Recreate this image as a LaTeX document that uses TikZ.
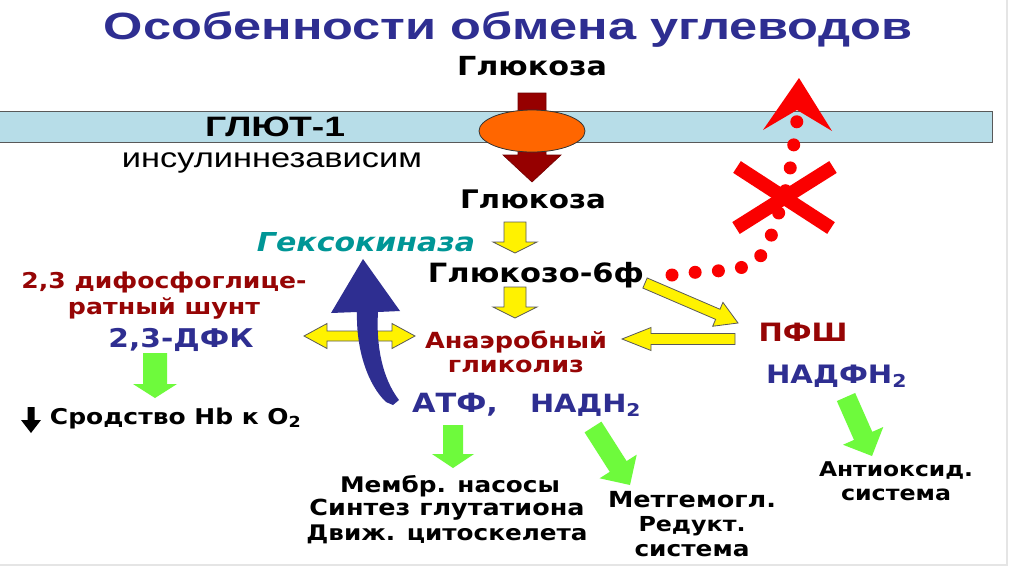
\documentclass[tikz,border=0pt]{standalone}
\usepackage{fontspec}
\setmainfont{DejaVu Sans}
\newfontfamily\arialf{Liberation Sans}
\usetikzlibrary{calc,shapes.geometric}
\definecolor{tblue}{RGB}{46,46,145}
\definecolor{dred}{RGB}{150,5,5}
\definecolor{tealc}{RGB}{0,150,150}
\definecolor{bandc}{RGB}{183,221,232}
\definecolor{orng}{RGB}{255,102,0}
\definecolor{grn}{RGB}{110,250,60}
\definecolor{ared}{RGB}{150,0,0}
\definecolor{rred}{RGB}{250,0,0}
\newcommand{\tw}[3][1.15]{\resizebox{#2pt}{!}{\scalebox{#1}[1]{#3}}}
% block arrow: style, start, end, half shaft, half head, head length
\newcommand{\barrow}[6]{%
  \coordinate (bh) at ($(#3)!#6!(#2)$);
  \path[#1] ($(#2)!#4!90:(#3)$) -- ($(bh)!#4!90:(#3)$) -- ($(bh)!#5!90:(#3)$) -- (#3)
    -- ($(bh)!#5!-90:(#3)$) -- ($(bh)!#4!-90:(#3)$) -- ($(#2)!#4!-90:(#3)$) -- cycle;}
\newcommand{\dbarrow}[6]{%
  \coordinate (bha) at ($(#2)!#6!(#3)$);
  \coordinate (bhb) at ($(#3)!#6!(#2)$);
  \path[#1] (#2) -- ($(bha)!#5!90:(#3)$) -- ($(bha)!#4!90:(#3)$) -- ($(bhb)!#4!90:(#3)$)
    -- ($(bhb)!#5!90:(#3)$) -- (#3) -- ($(bhb)!#5!-90:(#3)$) -- ($(bhb)!#4!-90:(#3)$)
    -- ($(bha)!#4!-90:(#3)$) -- ($(bha)!#5!-90:(#3)$) -- cycle;}
\tikzset{
  txt/.style={inner sep=0pt, anchor=base, font=\bfseries},
  yel/.style={fill=yellow, draw=black!65, line width=0.8pt, line join=miter},
  grarrow/.style={fill=grn},
  reddots/.style={draw=rred, line width=13pt, line cap=round, dash pattern=on 0pt off 23.3pt},
}
\begin{document}
\begin{tikzpicture}[x=1pt,y=-1pt]
\useasboundingbox (0,0) rectangle (1024,574);
\fill[white] (0,0) rectangle (1024,574);
\draw[black!10, line width=2pt] (1007,0) -- (1007,565) -- (0,565);

% membrane
\draw[fill=bandc, draw=black!65, line width=1pt] (-3,111) rectangle (992,142);

% title and texts
\node[txt, text=tblue, font=\arialf\bfseries] (title) at (508,39) {\tw[1.33]{808}{Особенности обмена углеводов}};
\node[txt] (gl1) at (532,75) {\tw{150}{Глюкоза}};
\node[txt, font=\arialf\bfseries] (glut) at (275,136) {\tw[1.33]{140}{ГЛЮТ-1}};
\node[txt, font=\arialf] (insul) at (272,167) {\tw[1.25]{300}{инсулиннезависим}};
\node[txt] (gl2) at (533,208) {\tw{146}{Глюкоза}};
\node[txt, text=tealc, font=\bfseries\itshape] (hexo) at (366,251) {\tw{218}{Гексокиназа}};
\node[txt] (g6) at (536,282) {\tw{216}{Глюкозо-6ф}};
\node[txt, text=dred] (dpg1) at (164,288) {\tw{285}{2,3 дифосфоглице-}};
\node[txt, text=dred] (dpg2) at (164,314) {\tw{192}{ратный шунт}};
\node[txt, text=tblue] (dfk) at (181,347) {\tw{145}{2,3-ДФК}};
\node[txt] (afin) at (176,424) {\tw{252}{Сродство Hb к O\textsubscript{2}}};
\node[txt, text=dred] (anaer) at (516,348) {\tw{182}{Анаэробный}};
\node[txt, text=dred] (glyc) at (516,372) {\tw{136}{гликолиз}};
\node[txt, text=dred] (pfsh) at (803,341) {\tw{89}{ПФШ}};
\node[txt, text=tblue] (nadfn) at (837,383) {\tw{142}{НАДФН\textsubscript{2}}};
\node[txt, text=tblue] (atf) at (455,412) {\tw{86}{АТФ,}};
\node[txt, text=tblue] (nadh) at (586,412) {\tw{112}{НАДН\textsubscript{2}}};
\node[txt] (mem1) at (450,492) {\tw{220}{Мембр. насосы}};
\node[txt] (mem2) at (447,515) {\tw{275}{Синтез глутатиона}};
\node[txt] (mem3) at (447,540) {\tw{281}{Движ. цитоскелета}};
\node[txt] (met1) at (692,507) {\tw{168}{Метгемогл.}};
\node[txt] (met2) at (692,531) {\tw{107}{Редукт.}};
\node[txt] (met3) at (692,556) {\tw{115}{система}};
\node[txt] (anti1) at (896,476) {\tw{154}{Антиоксид.}};
\node[txt] (anti2) at (896,500) {\tw{110}{система}};

% transporter arrow and ellipse
\coordinate (dr1) at (532,93);
\coordinate (dr2) at (532,182);
\barrow{fill=ared, draw=ared!75!black, line width=0.6pt}{dr1}{dr2}{14pt}{29pt}{27pt}
\node[ellipse, draw=black!80, fill=orng, line width=0.8pt, minimum width=106pt, minimum height=42pt, inner sep=0pt] (carrier) at (532,131) {};

% yellow arrows
\coordinate (y1s) at (515,222); \coordinate (y1e) at (515,253);
\barrow{yel}{y1s}{y1e}{11pt}{22pt}{11pt}
\coordinate (y2s) at (515,287); \coordinate (y2e) at (515,318);
\barrow{yel}{y2s}{y2e}{11pt}{22pt}{11pt}
\coordinate (yds) at (645,283); \coordinate (yde) at (738,323);
\barrow{yel}{yds}{yde}{5.5pt}{13pt}{22pt}
\coordinate (yls) at (735,339); \coordinate (yle) at (622,339);
\barrow{yel}{yls}{yle}{5.5pt}{11.5pt}{29pt}
\coordinate (ybs) at (304,336); \coordinate (ybe) at (415,336);
\dbarrow{yel}{ybs}{ybe}{5pt}{12.5pt}{23pt}

% green arrows
\coordinate (ga1) at (155,353); \coordinate (ga2) at (155,398);
\barrow{grarrow}{ga1}{ga2}{12pt}{22pt}{14pt}
\coordinate (gb1) at (453,425); \coordinate (gb2) at (453,468);
\barrow{grarrow}{gb1}{gb2}{10pt}{21pt}{14pt}
\coordinate (gc1) at (593,427); \coordinate (gc2) at (630,485);
\barrow{grarrow}{gc1}{gc2}{10pt}{22pt}{22pt}
\coordinate (gd1) at (846,397); \coordinate (gd2) at (872,456);
\barrow{grarrow}{gd1}{gd2}{10pt}{22pt}{22pt}

% black down arrow
\coordinate (da1) at (31,407); \coordinate (da2) at (31,433);
\barrow{fill=black}{da1}{da2}{3.5pt}{10pt}{13pt}

% blue curved arrow from ATP to hexokinase
\fill[tblue] (363,259) -- (400,311) -- (378,312) .. controls (376,345) and (382,378) .. (399,400)
  -- (393,405) -- (386,402) .. controls (368,385) and (356,350) .. (357,312) -- (331,313) -- cycle;

% red dotted path, blocked
\coordinate (rd0) at (672,275);
\coordinate (redtip) at (797,120);
\draw[reddots] plot[smooth] coordinates {(rd0) (698,272) (727,270) (752,264) (766,248) (774,227) (787,185) (794,143) (redtip)};
\fill[rred] (799,78) -- (832,131) -- (797,110) -- (763,130) -- cycle;
\draw[rred, line width=14pt] (737,167) -- (831,228);
\draw[rred, line width=14pt] (833,167) -- (736,228);
\end{tikzpicture}
\end{document}
